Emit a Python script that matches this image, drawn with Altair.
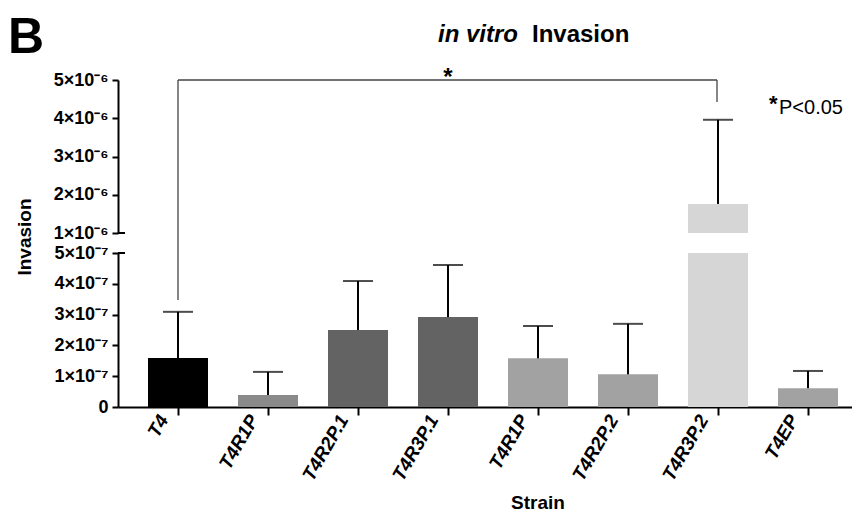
import altair as alt
import pandas as pd

# ---- data ----
strains = ["T4", "T4R1P", "T4R2P.1", "T4R3P.1", "T4R1P", "T4R2P.2", "T4R3P.2", "T4EP"]
means = [1.59e-7, 3.9e-8, 2.5e-7, 2.92e-7, 1.58e-7, 1.06e-7, 1.76e-6, 6.1e-8]
err_tops = [3.09e-7, 1.14e-7, 4.09e-7, 4.61e-7, 2.63e-7, 2.70e-7, 3.96e-6, 1.17e-7]
bar_colors = ["#000000", "#8a8a8a", "#636363", "#636363", "#a2a2a2", "#a2a2a2", "#d6d6d6", "#a2a2a2"]
lower_ticks = [0, 1e-7, 2e-7, 3e-7, 4e-7, 5e-7]
upper_ticks = [1e-6, 2e-6, 3e-6, 4e-6, 5e-6]

FONT = "Liberation Sans"
W, H = 734, 327

df = pd.DataFrame({"idx": list(range(len(strains))), "strain": strains,
                   "mean": means, "err": err_tops})

x_enc = alt.X(
    "idx:O", title=None,
    scale=alt.Scale(paddingInner=1 / 3, paddingOuter=0.2444, align=0.682),
    axis=alt.Axis(labels=False, tickSize=8, tickWidth=2, tickColor="black", domainWidth=2,
                  domainColor="black", grid=False),
)
color_enc = alt.Color("idx:O", scale=alt.Scale(domain=list(range(len(strains))), range=bar_colors),
                      legend=None)


def axis_for(values, expr):
    return alt.Axis(values=values, labelExpr=expr, orient="left", title=None, tickSize=6,
                    tickWidth=2, tickColor="black", domainWidth=2, domainColor="black",
                    labelFont=FONT, labelFontSize=18, labelFontWeight="bold",
                    labelColor="black", grid=False, labelPadding=4, labelFlush=False)


lower_scale = alt.Scale(domain=[0, 5e-7], range=[H, 173], clamp=True, nice=False, zero=False)
upper_scale = alt.Scale(domain=[1e-6, 5e-6], range=[153, 0], clamp=True, nice=False, zero=False)
lower_axis = axis_for(lower_ticks, "datum.value == 0 ? '0' : format(datum.value*1e7, '.0f') + '×10⁻⁷'")
upper_axis = axis_for(upper_ticks, "format(datum.value*1e6, '.0f') + '×10⁻⁶'")


def yl(field):
    return alt.Y(field, type="quantitative", scale=lower_scale, axis=lower_axis, stack=None)


def yu(field):
    return alt.Y(field, type="quantitative", scale=upper_scale, axis=upper_axis, stack=None)


base = alt.Chart(df)

# lower segment
lower = alt.layer(
    base.mark_bar().encode(x=x_enc, y=yl("mean"), color=color_enc),
    base.transform_filter("datum.err <= 5e-7").mark_rule(color="black", strokeWidth=2)
        .encode(x=x_enc, y=yl("mean"), y2=alt.Y2("err")),
    base.transform_filter("datum.err <= 5e-7").mark_tick(color="black", size=30, thickness=2)
        .encode(x=x_enc, y=yl("err")),
    alt.Chart(pd.DataFrame({"v": [5e-7]})).mark_rule(color="black", strokeWidth=2)
        .encode(x=alt.value(0), x2=alt.value(7), y=yl("v")),
)

# upper segment
upper = alt.layer(
    base.transform_filter("datum.mean > 1e-6").mark_bar()
        .encode(x=x_enc, y=yu("mean"), y2=alt.datum(1e-6), color=color_enc),
    base.transform_filter("datum.err > 5e-7").mark_rule(color="black", strokeWidth=2)
        .encode(x=x_enc, y=yu("mean"), y2=alt.Y2("err")),
    base.transform_filter("datum.err > 5e-7").mark_tick(color="black", size=30, thickness=2)
        .encode(x=x_enc, y=yu("err")),
    alt.Chart(pd.DataFrame({"v": [1e-6]})).mark_rule(color="black", strokeWidth=2)
        .encode(x=alt.value(0), x2=alt.value(7), y=yu("v")),
)

# rotated category labels
xlabels = base.mark_text(angle=300, align="right", baseline="top", font=FONT, fontSize=19,
                         fontWeight="bold", fontStyle="italic", color="black").encode(
    x=x_enc, xOffset=alt.value(8), y=alt.value(H + 5), text="strain:N")

ann = alt.Chart(pd.DataFrame({"a": [0]}))
bracket = [
    ann.mark_rule(color="#444444", strokeWidth=1.3).encode(x=alt.value(60), x2=alt.value(599), y=alt.value(0)),
    ann.mark_rule(color="#444444", strokeWidth=1.3).encode(x=alt.value(60), y=alt.value(0), y2=alt.value(220)),
    ann.mark_rule(color="#444444", strokeWidth=1.3).encode(x=alt.value(599), y=alt.value(0), y2=alt.value(22)),
]


def txt(s, x, y, size, weight="normal", style="normal", align="left", angle=0, baseline="alphabetic"):
    m = ann.mark_text(text=s, font=FONT, fontSize=size, fontWeight=weight, fontStyle=style,
                      align=align, baseline=baseline, color="black", angle=angle)
    return m.encode(x=alt.value(x), y=alt.value(y))


texts = [
    txt("*", 330, 5, 24, weight="bold", align="center"),
    txt("*", 651, 31, 22, weight="bold"),
    txt("P<0.05", 661, 34, 20),
    txt("in vitro", 320, -38, 24, weight="bold", style="italic"),
    txt("Invasion", 414, -38, 24, weight="bold"),
    txt("B", -110, -27, 50, weight="bold"),
    txt("Invasion", -93, 157, 19, weight="bold", align="center", angle=270, baseline="middle"),
    txt("Strain", 420, 429, 19, weight="bold", align="center"),
]

chart = alt.layer(lower, upper, xlabels, *bracket, *texts).resolve_scale(y="independent").properties(
    width=W, height=H,
    autosize=alt.AutoSizeParams(type="none"),
    padding={"left": 110, "top": 72, "right": 0, "bottom": 108},
).configure_view(stroke=None)

chart.save("out.html", embed_options={"renderer": "svg", "actions": False})
